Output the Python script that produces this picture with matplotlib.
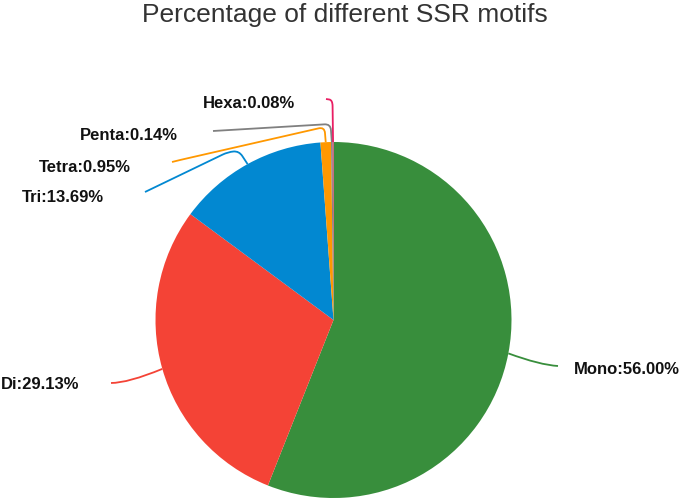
import numpy as np
import matplotlib.pyplot as plt
from matplotlib.path import Path
from matplotlib.patches import PathPatch


LABELS = ["Mono", "Di", "Tri", "Tetra", "Penta", "Hexa"]
PCT = [56.00, 29.13, 13.69, 0.95, 0.14, 0.08]
COLORS = ["#388E3C", "#F44336", "#0288D1", "#FF9800", "#808080", "#E91E63"]

TITLE = "Percentage of different SSR motifs"

W, H = 685, 502
CX, CY, R = 333.5, 321, 178

# label layout: text anchor (left, middle) and leader path points after the wedge edge
LAYOUT = {
    "Mono": dict(text=(574, 369), pts=[(540, 366), (558, 367)], curve=True),
    "Di": dict(text=(1, 385), pts=[(128, 384), (111, 384)], curve=True),
    "Tri": dict(text=(22, 198), pts=[(239, 152), (228, 153), (145, 193)], curve=False),
    "Tetra": dict(text=(39, 167), pts=[(324.5, 128), (180, 161), (172, 163)], curve=False),
    "Penta": dict(text=(80, 136), pts=[(330.5, 125), (213, 132)], curve=False),
    "Hexa": dict(text=(203, 104), pts=[(332.5, 101), (326, 100)], curve=False),
}


def py(y):
    return H - y


def rounded(points, rad=6):
    # polyline with small rounded corners
    verts = [points[0]]
    codes = [Path.MOVETO]
    for i in range(1, len(points) - 1):
        p0 = np.array(points[i - 1], float)
        p1 = np.array(points[i], float)
        p2 = np.array(points[i + 1], float)
        d0 = (p0 - p1) / np.linalg.norm(p0 - p1)
        d2 = (p2 - p1) / np.linalg.norm(p2 - p1)
        r0 = min(rad, np.linalg.norm(p0 - p1) / 2)
        r2 = min(rad, np.linalg.norm(p2 - p1) / 2)
        verts += [tuple(p1 + d0 * r0), tuple(p1), tuple(p1 + d2 * r2)]
        codes += [Path.LINETO, Path.CURVE3, Path.CURVE3]
    verts.append(points[-1])
    codes.append(Path.LINETO)
    return Path([(x, py(y)) for x, y in verts], codes)


def smooth(points):
    # one quadratic curve: start, control, end
    return Path(
        [(x, py(y)) for x, y in points],
        [Path.MOVETO, Path.CURVE3, Path.CURVE3],
    )


fig = plt.figure(figsize=(W / 100, H / 100), dpi=100)
ax = fig.add_axes([0, 0, 1, 1])

wedges, _ = ax.pie(
    PCT,
    colors=COLORS,
    startangle=90,
    counterclock=False,
    center=(CX, py(CY)),
    radius=R,
    frame=True,
    wedgeprops=dict(linewidth=0),
)
ax.set_xlim(0, W)
ax.set_ylim(0, H)
ax.set_aspect("equal")
ax.axis("off")

total = sum(PCT)
start = 0.0
for lab, val, col in zip(LABELS, PCT, COLORS):
    mid = start + val / 2
    start += val
    ang = np.deg2rad(90 - mid / total * 360)
    ax_x = CX + R * np.cos(ang)
    ax_y = CY - R * np.sin(ang)

    lay = LAYOUT[lab]
    pts = [(ax_x, ax_y)] + lay["pts"]
    path = smooth(pts) if lay["curve"] else rounded(pts)
    ax.add_patch(
        PathPatch(path, fill=False, edgecolor=col, linewidth=1.3)
    )

    tx, ty = lay["text"]
    ax.text(
        tx,
        py(ty),
        f"{lab}:{val:.2f}%",
        ha="left",
        va="center",
        fontsize=12,
        fontweight="bold",
        family="Liberation Sans",
        color="#111111",
    )

ax.text(
    345,
    py(15),
    TITLE,
    ha="center",
    va="center",
    fontsize=19,
    family="Liberation Sans",
    color="#333333",
)

fig.savefig("out.png", dpi=100)
